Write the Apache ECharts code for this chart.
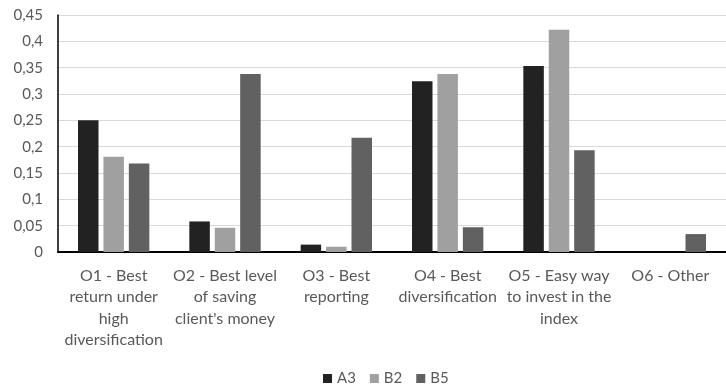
<!DOCTYPE html>
<html>
<head>
<meta charset="utf-8">
<script src="https://cdn.jsdelivr.net/npm/echarts@6/dist/echarts.min.js"></script>
<style>
  html, body { margin: 0; padding: 0; background: #ffffff; }
  #chart { width: 726px; height: 385px; }
</style>
</head>
<body>
<div id="chart"></div>
<script>
// Answer options (x axis)
const categories = [
  'O1 - Best\nreturn under\nhigh\ndiversification',
  'O2 - Best level\nof saving\nclient\'s money',
  'O3 - Best\nreporting',
  'O4 - Best\ndiversification',
  'O5 - Easy way\nto invest in the\nindex',
  'O6 - Other'
];

// Share of respondents per group
const seriesNames = ['A3', 'B2', 'B5'];
const valuesA3 = [0.25, 0.058, 0.014, 0.324, 0.353, 0];
const valuesB2 = [0.181, 0.046, 0.010, 0.338, 0.422, 0];
const valuesB5 = [0.168, 0.338, 0.217, 0.047, 0.193, 0.034];

// Y axis ticks
const yTicks = [0, 0.05, 0.1, 0.15, 0.2, 0.25, 0.3, 0.35, 0.4, 0.45];

const colors = ['#222222', '#a0a0a0', '#616161'];
const font = 'Lato, "Open Sans", sans-serif';

const chart = echarts.init(document.getElementById('chart'), null, { renderer: 'canvas' });

const makeSeries = (name, data, i) => ({
  name: name,
  type: 'bar',
  data: data,
  barWidth: 20.5,
  barGap: '24%',
  itemStyle: { color: colors[i] },
  emphasis: { disabled: true }
});

chart.setOption({
  animation: false,
  color: colors,
  grid: { left: 58, top: 15, width: 676, height: 237, containLabel: false },
  legend: {
    data: seriesNames,
    left: 318,
    top: 366,
    itemWidth: 9,
    itemHeight: 9,
    itemGap: 14,
    icon: 'rect',
    textStyle: { color: '#595959', fontSize: 15, fontFamily: font }
  },
  xAxis: {
    type: 'category',
    data: categories,
    axisLine: { show: true, lineStyle: { color: '#000000', width: 2 } },
    axisTick: { show: false },
    axisLabel: {
      interval: 0,
      margin: 13,
      color: '#595959',
      fontSize: 16,
      lineHeight: 21.5,
      fontFamily: font,
      align: 'center'
    },
    splitLine: { show: false }
  },
  yAxis: {
    type: 'value',
    min: yTicks[0],
    max: yTicks[yTicks.length - 1],
    interval: 0.05,
    axisLine: { show: true, lineStyle: { color: '#000000', width: 1.5 } },
    axisTick: { show: false },
    axisLabel: {
      margin: 15,
      color: '#595959',
      fontSize: 15,
      fontFamily: font,
      formatter: v => {
        const t = yTicks.find(x => Math.abs(x - v) < 1e-9);
        return t === undefined ? '' : String(+t.toFixed(2)).replace('.', ',');
      }
    },
    splitLine: { show: true, lineStyle: { color: '#d9d9d9', width: 1 } }
  },
  series: [
    makeSeries(seriesNames[0], valuesA3, 0),
    makeSeries(seriesNames[1], valuesB2, 1),
    makeSeries(seriesNames[2], valuesB5, 2)
  ]
});
</script>
</body>
</html>
